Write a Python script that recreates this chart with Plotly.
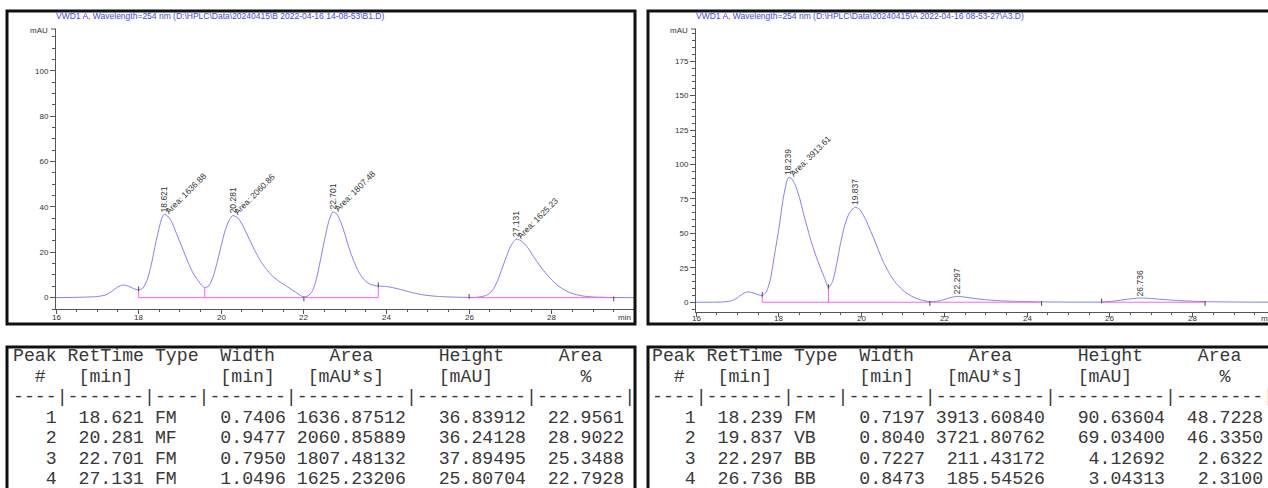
import numpy as np
import plotly.graph_objects as go

W, H = 1268, 488

# ---------------- detector traces (min, mAU) ----------------
b_time = [16.0, 16.4, 16.8, 17.0, 17.2, 17.35, 17.5, 17.62, 17.75, 17.88, 18.0, 18.1, 18.2, 18.3,
          18.4, 18.5, 18.56, 18.621, 18.7, 18.8, 18.9, 19.0, 19.1, 19.2, 19.3, 19.4, 19.5, 19.6,
          19.7, 19.8, 19.9, 20.0, 20.1, 20.2, 20.281, 20.4, 20.5, 20.6, 20.7, 20.8, 20.9, 21.0,
          21.2, 21.4, 21.6, 21.8, 21.95, 22.0, 22.1, 22.2, 22.3, 22.4, 22.5, 22.6, 22.701, 22.8,
          22.9, 23.0, 23.1, 23.2, 23.3, 23.4, 23.5, 23.6, 23.7, 23.8, 23.95, 24.1, 24.3, 24.5,
          24.7, 24.9, 25.2, 25.6, 26.0, 26.2, 26.4, 26.5, 26.6, 26.7, 26.8, 26.9, 27.0, 27.131,
          27.25, 27.4, 27.6, 27.8, 28.0, 28.2, 28.4, 28.6, 28.8, 29.0, 29.4, 30.0]
b_mau = [0.0, 0.1, 0.3, 0.5, 1.2, 2.8, 4.8, 5.6, 5.1, 4.0, 3.4, 4.2, 7.5, 14.0,
         23.0, 31.0, 35.0, 36.84, 36.0, 33.5, 29.0, 24.5, 20.0, 15.5, 11.5, 8.5, 6.0, 4.4,
         5.2, 9.0, 15.5, 23.0, 30.0, 34.5, 36.24, 35.2, 32.5, 28.8, 25.0, 21.2, 17.8, 14.8,
         10.2, 7.2, 4.8, 2.4, 0.6, 0.3, 0.8, 2.8, 8.0, 16.5, 25.5, 33.5, 37.89, 36.8,
         33.0, 27.5, 21.5, 16.5, 12.3, 9.2, 7.2, 6.0, 5.4, 5.1, 5.0, 4.6, 3.8, 2.8,
         1.9, 1.2, 0.6, 0.25, 0.1, 0.2, 0.9, 2.0, 4.2, 8.0, 13.0, 18.0, 22.5, 25.81,
         25.2, 22.5, 17.0, 12.0, 7.8, 4.6, 2.5, 1.3, 0.6, 0.3, 0.1, 0.0]

a_time = [16.0, 16.4, 16.7, 16.85, 17.0, 17.1, 17.23, 17.35, 17.5, 17.6, 17.7, 17.8, 17.9, 18.0,
          18.1, 18.2, 18.239, 18.3, 18.4, 18.5, 18.6, 18.7, 18.8, 18.9, 19.0, 19.1, 19.2, 19.3,
          19.4, 19.5, 19.6, 19.7, 19.837, 19.95, 20.1, 20.2, 20.3, 20.4, 20.5, 20.6, 20.7, 20.8,
          21.0, 21.2, 21.4, 21.6, 21.75, 21.9, 22.05, 22.2, 22.297, 22.45, 22.7, 23.0, 23.4, 23.8,
          24.3, 25.0, 25.8, 26.1, 26.4, 26.6, 26.736, 26.9, 27.2, 27.6, 28.0, 28.4, 29.0, 29.82]
a_mau = [0.0, 0.05, 0.3, 1.0, 3.2, 5.5, 7.5, 7.0, 5.5, 4.8, 7.5, 17.0, 35.0, 53.0,
         74.0, 88.5, 90.64, 90.0, 85.0, 76.0, 64.0, 53.0, 42.5, 33.5, 25.5, 18.0, 10.5, 15.0,
         28.0, 44.0, 56.5, 64.5, 69.03, 67.5, 60.0, 53.0, 46.0, 38.5, 31.0, 25.0, 19.5, 15.0,
         8.7, 4.5, 1.9, 0.6, 0.5, 1.1, 2.5, 3.7, 4.13, 3.9, 2.8, 1.8, 1.0, 0.5,
         0.25, 0.1, 0.15, 0.8, 2.1, 2.8, 3.04, 2.9, 2.2, 1.3, 0.7, 0.35, 0.15, 0.05]

# time-axis tick labels
time_ticks = [16, 18, 20, 22, 24, 26, 28]

# ---------------- peak tables ----------------
b_peak = [1, 2, 3, 4]
b_rt = [18.621, 20.281, 22.701, 27.131]
b_type = ["FM", "MF", "FM", "FM"]
b_width = [0.7406, 0.9477, 0.7950, 1.0496]
b_area = [1636.87512, 2060.85889, 1807.48132, 1625.23206]
b_height = [36.83912, 36.24128, 37.89495, 25.80704]
b_pct = [22.9561, 28.9022, 25.3488, 22.7928]

a_peak = [1, 2, 3, 4]
a_rt = [18.239, 19.837, 22.297, 26.736]
a_type = ["FM", "VB", "BB", "BB"]
a_width = [0.7197, 0.8040, 0.7227, 0.8473]
a_area = [3913.60840, 3721.80762, 211.43172, 185.54526]
a_height = [90.63604, 69.03400, 4.12692, 3.04313]
a_pct = [48.7228, 46.3350, 2.6322, 2.3100]
a_area_tagged = [True, False, False, False]
b_area_tagged = [True, True, True, True]

# integration events: baselines, drop lines and start/stop ticks
b_baselines = [(18.0, 23.8), (26.0, 29.5)]
b_drops = [18.0, 19.6, 23.8]
b_ticks_up = [18.0, 23.8, 26.0]
b_ticks_down = [22.0, 29.5]
a_baselines = [(17.6, 24.35), (25.8, 28.3)]
a_drops = [17.6, 19.2]
a_ticks_up = [17.6, 19.2, 25.8]
a_ticks_down = [21.65, 24.35, 28.3]

b_title = "VWD1 A, Wavelength=254 nm (D:\\HPLC\\Data\\20240415\\B 2022-04-16 14-08-53\\B1.D)"
a_title = "VWD1 A, Wavelength=254 nm (D:\\HPLC\\Data\\20240415\\A 2022-04-16 08-53-27\\A3.D)"

TRACE = "#8080f2"
BASE = "#ff5cff"
AXIS = "#555555"
TXT = "#333333"
SANS = "Liberation Sans, Arial, sans-serif"
MONO = "Liberation Mono, Courier New, monospace"


def px(x):
    return x / W


def py(y):
    return 1 - y / H


fig = go.Figure()


def add_chrom(t, v, xa, ya, baselines, drops, ticks_up, ticks_down, tick_len):
    fig.add_trace(go.Scatter(x=t, y=v, mode="lines", xaxis=xa, yaxis=ya,
                             line=dict(color=TRACE, width=1, shape="spline", smoothing=0.6),
                             hoverinfo="skip", showlegend=False))
    bx, by = [], []
    for a, b in baselines:
        bx += [a, b, None]
        by += [0, 0, None]
    for d in drops:
        bx += [d, d, None]
        by += [0, float(np.interp(d, t, v)), None]
    fig.add_trace(go.Scatter(x=bx, y=by, mode="lines", xaxis=xa, yaxis=ya,
                             line=dict(color=BASE, width=1), hoverinfo="skip", showlegend=False))
    tx, ty = [], []
    for d in ticks_up:
        top = float(np.interp(d, t, v)) if d in drops else 0.0
        tx += [d, d, None]
        ty += [top - 0.3 * tick_len, top + tick_len, None]
    for d in ticks_down:
        tx += [d, d, None]
        ty += [-tick_len, 0.3 * tick_len, None]
    fig.add_trace(go.Scatter(x=tx, y=ty, mode="lines", xaxis=xa, yaxis=ya,
                             line=dict(color="#444444", width=1), hoverinfo="skip", showlegend=False))


add_chrom(b_time, b_mau, "x", "y", b_baselines, b_drops, b_ticks_up, b_ticks_down, 1.6)
add_chrom(a_time, a_mau, "x2", "y2", a_baselines, a_drops, a_ticks_up, a_ticks_down, 2.6)

tickfont = dict(family=SANS, size=8, color=TXT)


def xaxis_cfg(x0, x1, rng, anchor):
    return dict(domain=[px(x0), px(x1)], range=rng, anchor=anchor, showline=True, linecolor=AXIS,
                linewidth=1, ticks="outside", ticklen=4, tickcolor=AXIS, tickmode="array",
                tickvals=time_ticks, showticklabels=False,
                showgrid=False, zeroline=False, fixedrange=True,
                minor=dict(ticks="outside", ticklen=2, tickcolor=AXIS, tickmode="linear",
                           tick0=16, dtick=0.5, showgrid=False))


def yaxis_cfg(y_top, y_bot, rng, dtick, anchor):
    return dict(domain=[py(y_bot), py(y_top)], range=rng, anchor=anchor, showline=True, linecolor=AXIS,
                linewidth=1, ticks="outside", ticklen=5, tickcolor=AXIS, tick0=0, dtick=dtick,
                tickfont=tickfont, showgrid=False, zeroline=False, fixedrange=True,
                minor=dict(ticks="outside", ticklen=3, tickcolor=AXIS, tick0=0, dtick=5, showgrid=False))


annotations = []

# time tick labels placed just under each time axis
for xa, ylab in [("x", 317.5), ("x2", 318.5)]:
    for tv in time_ticks:
        annotations.append(dict(x=tv, y=py(ylab), xref=xa, yref="paper", text=str(tv), showarrow=False,
                                xanchor="center", yanchor="middle", borderpad=0, font=tickfont))


def peak_labels(rt, height, area, tagged, xa, ya):
    for r, h, a, tg in zip(rt, height, area, tagged):
        annotations.append(dict(x=r, y=h, xref=xa, yref=ya, text=f"{r:.3f}", textangle=-90,
                                showarrow=False, xanchor="center", yanchor="bottom", yshift=1,
                                borderpad=0, font=dict(family=SANS, size=8.5, color=TXT)))
        if tg:
            annotations.append(dict(x=r, y=h, xref=xa, yref=ya, text=f"Area: {a:.2f}", textangle=-45,
                                    showarrow=False, xanchor="left", yanchor="bottom", xshift=-2,
                                    yshift=-3, borderpad=0, font=dict(family=SANS, size=8.5, color=TXT)))


peak_labels(b_rt, b_height, b_area, b_area_tagged, "x", "y")
peak_labels(a_rt, a_height, a_area, a_area_tagged, "x2", "y2")

# chart headers, unit labels
for xt, title in [(55, b_title), (695, a_title)]:
    annotations.append(dict(x=px(xt), y=py(16), xref="paper", yref="paper", text=title, showarrow=False,
                            xanchor="left", yanchor="middle", borderpad=0,
                            font=dict(family=SANS, size=8.5, color="#4646f0")))
for xu in [49, 689]:
    annotations.append(dict(x=px(xu), y=py(31), xref="paper", yref="paper", text="mAU", showarrow=False,
                            xanchor="right", yanchor="middle", borderpad=0, font=tickfont))
for xm, ym in [(617, 317.5), (1260, 318.5)]:
    annotations.append(dict(x=px(xm), y=py(ym), xref="paper", yref="paper", text="min", showarrow=False,
                            xanchor="left", yanchor="middle", borderpad=0, font=tickfont))


# ---------------- peak report tables ----------------
def nb(s):
    return s.replace(" ", "\u00a0")


header = ["Peak RetTime Type  Width     Area      Height     Area  ",
          "  #   [min]        [min]   [mAU*s]     [mAU]        %   ",
          "----|-------|----|-------|----------|----------|--------|"]


def table_lines(pk, rt, ty, wd, ar, ht, pc):
    rows = [f"{n:4d} {r:7.3f} {t:<4s} {w:7.4f} {a:10.5f} {h:10.5f} {p:8.4f}"
            for n, r, t, w, a, h, p in zip(pk, rt, ty, wd, ar, ht, pc)]
    return header + rows


line_y = [356, 376.5, 397, 417.5, 438, 458.5, 478.5]
for x0, lines in [(12, table_lines(b_peak, b_rt, b_type, b_width, b_area, b_height, b_pct)),
                  (651, table_lines(a_peak, a_rt, a_type, a_width, a_area, a_height, a_pct))]:
    for yy, ln in zip(line_y, lines):
        annotations.append(dict(x=px(x0), y=py(yy), xref="paper", yref="paper", text=nb(ln),
                                showarrow=False, xanchor="left", yanchor="middle", borderpad=0,
                                font=dict(family=MONO, size=18.2, color="#383838")))

# frames around charts and tables, plus the end tick on top of each y axis
shapes = []
for (x0, y0, x1, y1) in [(7, 11, 635, 324), (648, 11, 1275, 324), (7, 347, 635, 500), (648, 347, 1275, 500)]:
    shapes.append(dict(type="rect", xref="paper", yref="paper", x0=px(x0), x1=px(x1), y0=py(y1), y1=py(y0),
                       line=dict(color="#111111", width=3), fillcolor="rgba(0,0,0,0)", layer="above"))
for xa in [56, 696]:
    shapes.append(dict(type="line", xref="paper", yref="paper", x0=px(xa - 5), x1=px(xa), y0=py(29), y1=py(29),
                       line=dict(color=AXIS, width=1)))

fig.update_layout(
    width=W, height=H, margin=dict(l=0, r=0, t=0, b=0),
    paper_bgcolor="white", plot_bgcolor="white", showlegend=False,
    xaxis=xaxis_cfg(56, 634, [16, 29.99], "y"),
    yaxis=yaxis_cfg(29, 309, [-5.0, 118.5], 20, "x"),
    xaxis2=xaxis_cfg(696, W, [16, 29.82], "y2"),
    yaxis2=yaxis_cfg(29, 312, [-7.1, 198.4], 25, "x2"),
    annotations=annotations, shapes=shapes, hovermode=False,
)

fig.write_html("out.html", config={"displayModeBar": False, "staticPlot": True})
